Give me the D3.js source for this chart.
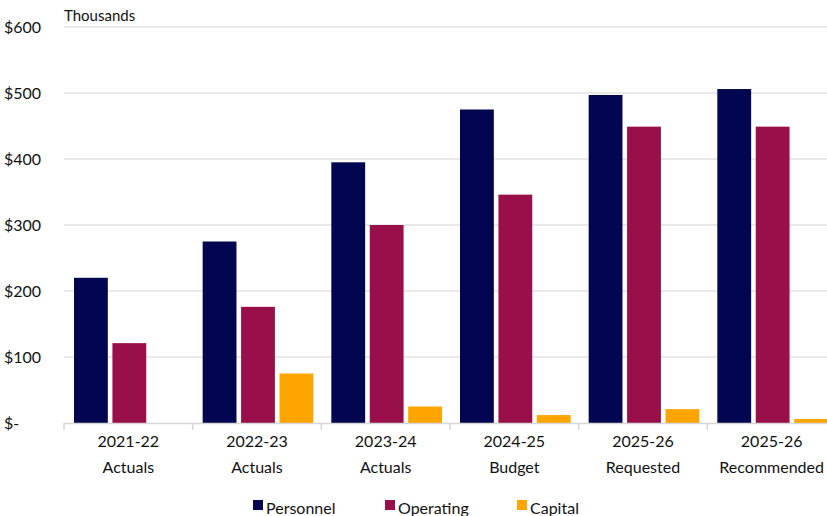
<!DOCTYPE html>
<html><head><meta charset="utf-8">
<script src="https://cdn.jsdelivr.net/npm/d3@7"></script>
<style>body{margin:0;background:#fff}svg{display:block}text{font-family:Lato,"Open Sans",sans-serif;fill:#111}</style>
</head><body><svg id="c" width="827" height="516"></svg>
<script>
const categories = [["2021-22","Actuals"],["2022-23","Actuals"],["2023-24","Actuals"],["2024-25","Budget"],["2025-26","Requested"],["2025-26","Recommended"]];
const seriesNames = ["Personnel","Operating","Capital"];
const personnel = [220, 275, 395, 475, 497, 506];
const operating = [121, 176, 300, 346, 449, 449];
const capital = [0, 75, 25, 12, 21, 6];
const yTicks = [0,100,200,300,400,500,600];
const yTickLabels = ["$-","$100","$200","$300","$400","$500","$600"];
const colors = ["#020650","#990f4a","#ffa500"];
const series = [personnel, operating, capital];

(function(){
const svg = d3.select("#c");
const pl = 64, pr = 836, pt = 27, pb = 423;
const x = d3.scaleBand().domain(d3.range(categories.length)).range([pl, pr]);
const y = d3.scaleLinear().domain([0,600]).range([pb, pt]);
const inner = d3.scaleBand().domain(d3.range(3)).range([10, x.bandwidth()-8]).paddingInner(0.12);

svg.append("g").selectAll("line").data(yTicks.slice(1)).join("line")
  .attr("x1", pl).attr("x2", 827).attr("y1", d=>y(d)).attr("y2", d=>y(d))
  .attr("stroke","#e3e3e3").attr("stroke-width",1.5);

svg.append("g").selectAll("text").data(yTicks).join("text")
  .attr("x", 4).attr("y", d=>y(d)+6).text((d,i)=>yTickLabels[i])
  .attr("font-size",16);

svg.append("text").attr("x",64).attr("y",21).attr("font-size",15).text("Thousands");

series.forEach((s, si) => {
  svg.append("g").selectAll("rect").data(s).join("rect")
    .attr("x", (d,i)=>x(i)+inner(si))
    .attr("width", inner.bandwidth())
    .attr("y", d=>y(d))
    .attr("height", d=>pb - y(d))
    .attr("fill", colors[si]);
});

svg.append("line").attr("x1",pl).attr("x2",827).attr("y1",pb+0.5).attr("y2",pb+0.5)
  .attr("stroke","#d6d6d6").attr("stroke-width",1.5);
svg.append("g").selectAll("line").data(d3.range(categories.length+1)).join("line")
  .attr("x1", i=>pl + i*x.step()).attr("x2", i=>pl + i*x.step())
  .attr("y1", pb).attr("y2", pb+7).attr("stroke","#d6d6d6").attr("stroke-width",1.5);

const cl = svg.append("g").selectAll("text").data(categories).join("text")
  .attr("text-anchor","middle").attr("font-size",16);
cl.append("tspan").attr("x",(d,i)=>x(i)+x.bandwidth()/2).attr("y",447).text(d=>d[0]);
cl.append("tspan").attr("x",(d,i)=>x(i)+x.bandwidth()/2).attr("y",473).text(d=>d[1]);

const legX = [253, 385, 517];
const lg = svg.append("g").selectAll("g").data(seriesNames).join("g")
  .attr("transform",(d,i)=>`translate(${legX[i]},0)`);
lg.append("rect").attr("x",0).attr("y",500).attr("width",10).attr("height",10).attr("fill",(d,i)=>colors[i]);
lg.append("text").attr("x",13).attr("y",514).attr("font-size",16).text(d=>d);
})();
</script></body></html>
